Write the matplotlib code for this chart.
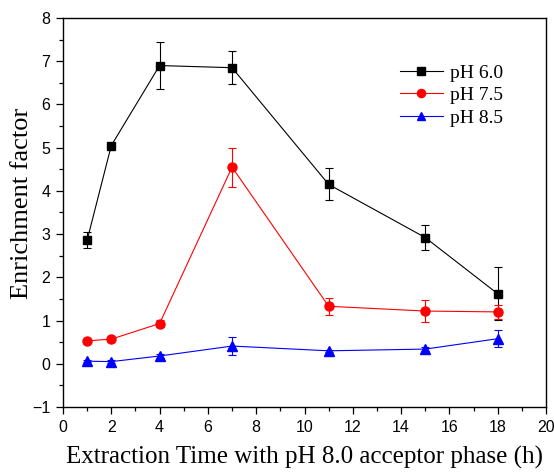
import matplotlib
matplotlib.use("Agg")
import matplotlib.pyplot as plt
from matplotlib.ticker import MultipleLocator

time_h = [1, 2, 4, 7, 11, 15, 18]
ph60 = [2.86, 5.05, 6.90, 6.85, 4.15, 2.92, 1.62]
ph60_err = [0.18, 0.04, 0.55, 0.38, 0.37, 0.28, 0.61]
ph75 = [0.53, 0.57, 0.93, 4.55, 1.33, 1.22, 1.20]
ph75_err = [0.04, 0.05, 0.08, 0.45, 0.20, 0.25, 0.17]
ph85 = [0.06, 0.05, 0.18, 0.41, 0.30, 0.34, 0.58]
ph85_err = [0.03, 0.03, 0.04, 0.20, 0.03, 0.04, 0.19]

labels = ["pH 6.0", "pH 7.5", "pH 8.5"]
colors = ["black", "red", "blue"]
markers = ["s", "o", "^"]
msizes = [6, 6.5, 7]

fig = plt.figure(figsize=(5.54, 4.73), dpi=100)
ax = fig.add_axes([63/554, 1-407/473, (546-63)/554, (407-18)/473])

for y, e, lab, c, m, ms in zip([ph60, ph75, ph85], [ph60_err, ph75_err, ph85_err], labels, colors, markers, msizes):
    ax.errorbar(time_h, y, yerr=e, color=c, marker=m, markersize=ms, lw=0.8,
                elinewidth=0.8, capsize=3, capthick=0.8, label=lab)

ax.set_xlim(0, 20)
ax.set_ylim(-1, 8)
ax.xaxis.set_major_locator(MultipleLocator(2))
ax.xaxis.set_minor_locator(MultipleLocator(1))
ax.yaxis.set_major_locator(MultipleLocator(1))
ax.yaxis.set_minor_locator(MultipleLocator(0.5))
ax.tick_params(which="both", direction="out", top=False, right=False,
               labelsize=11.5, width=0.9)
ax.tick_params(which="major", length=5, pad=4)
ax.tick_params(which="minor", length=3)
for lbl in ax.get_xticklabels() + ax.get_yticklabels():
    lbl.set_fontfamily("Liberation Sans")
for s in ax.spines.values():
    s.set_linewidth(1.0)

ax.set_xlabel("Extraction Time with pH 8.0 acceptor phase (h)", fontfamily="Liberation Serif", fontsize=18, labelpad=8)
ax.set_ylabel("Enrichment factor", fontfamily="Liberation Serif", fontsize=19)
ax.yaxis.set_label_coords((33-63)/483, (407-203)/389)

handles, labs = ax.get_legend_handles_labels()
handles = [h[0] for h in handles]
leg = ax.legend(handles, labs, loc="upper left", bbox_to_anchor=((400-63)/483, (407-64)/389), frameon=False,
                prop={"family": "Liberation Serif", "size": 14}, handlelength=2.2,
                handletextpad=0.35, labelspacing=0.25, borderaxespad=0, borderpad=0,
                markerscale=0.9)

fig.savefig("out.png", dpi=100)
